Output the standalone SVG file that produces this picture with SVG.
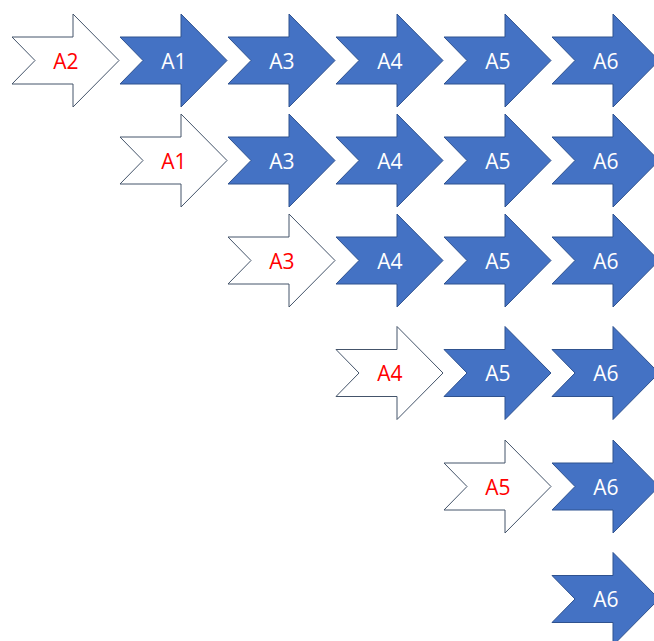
<svg xmlns="http://www.w3.org/2000/svg" xmlns:xlink="http://www.w3.org/1999/xlink" width="654" height="641" viewBox="0 0 654 641">
  <defs>
    <!-- notched block arrow, origin at left edge / vertical centre -->
    <path id="chev" d="M0,-23.5 L61,-23.5 L61,-46.5 L107,0 L61,46.5 L61,23.5 L0,23.5 L23,0 Z"/>
    <style>
      .blue use { fill: #4472C4; stroke: #2F528F; stroke-width: 1; }
      .blue text { fill: #FFFFFF; }
      .start use { fill: #FFFFFF; stroke: #44546A; stroke-width: 1; }
      .start text { fill: #FF0000; }
      text { font-family: "Open Sans", "Liberation Sans", sans-serif; font-size: 21px; text-anchor: middle; }
    </style>
  </defs>
  <rect width="654" height="641" fill="#FFFFFF"/>

  <!-- row 1 -->
  <g id="r1-a2" class="start" transform="translate(12,60.5)"><use xlink:href="#chev"/><text x="54" y="8">A2</text></g>
  <g id="r1-a1" class="blue" transform="translate(120,60.5)"><use xlink:href="#chev"/><text x="54" y="8">A1</text></g>
  <g id="r1-a3" class="blue" transform="translate(228,60.5)"><use xlink:href="#chev"/><text x="54" y="8">A3</text></g>
  <g id="r1-a4" class="blue" transform="translate(336,60.5)"><use xlink:href="#chev"/><text x="54" y="8">A4</text></g>
  <g id="r1-a5" class="blue" transform="translate(444,60.5)"><use xlink:href="#chev"/><text x="54" y="8">A5</text></g>
  <g id="r1-a6" class="blue" transform="translate(552,60.5)"><use xlink:href="#chev"/><text x="54" y="8">A6</text></g>

  <!-- row 2 -->
  <g id="r2-a1" class="start" transform="translate(120,160.5)"><use xlink:href="#chev"/><text x="54" y="8">A1</text></g>
  <g id="r2-a3" class="blue" transform="translate(228,160.5)"><use xlink:href="#chev"/><text x="54" y="8">A3</text></g>
  <g id="r2-a4" class="blue" transform="translate(336,160.5)"><use xlink:href="#chev"/><text x="54" y="8">A4</text></g>
  <g id="r2-a5" class="blue" transform="translate(444,160.5)"><use xlink:href="#chev"/><text x="54" y="8">A5</text></g>
  <g id="r2-a6" class="blue" transform="translate(552,160.5)"><use xlink:href="#chev"/><text x="54" y="8">A6</text></g>

  <!-- row 3 -->
  <g id="r3-a3" class="start" transform="translate(228,260.5)"><use xlink:href="#chev"/><text x="54" y="8">A3</text></g>
  <g id="r3-a4" class="blue" transform="translate(336,260.5)"><use xlink:href="#chev"/><text x="54" y="8">A4</text></g>
  <g id="r3-a5" class="blue" transform="translate(444,260.5)"><use xlink:href="#chev"/><text x="54" y="8">A5</text></g>
  <g id="r3-a6" class="blue" transform="translate(552,260.5)"><use xlink:href="#chev"/><text x="54" y="8">A6</text></g>

  <!-- row 4 -->
  <g id="r4-a4" class="start" transform="translate(336,373)"><use xlink:href="#chev"/><text x="54" y="8">A4</text></g>
  <g id="r4-a5" class="blue" transform="translate(444,373)"><use xlink:href="#chev"/><text x="54" y="8">A5</text></g>
  <g id="r4-a6" class="blue" transform="translate(552,373)"><use xlink:href="#chev"/><text x="54" y="8">A6</text></g>

  <!-- row 5 -->
  <g id="r5-a5" class="start" transform="translate(444,486.5)"><use xlink:href="#chev"/><text x="54" y="8">A5</text></g>
  <g id="r5-a6" class="blue" transform="translate(552,486.5)"><use xlink:href="#chev"/><text x="54" y="8">A6</text></g>

  <!-- row 6 -->
  <g id="r6-a6" class="blue" transform="translate(552,599)"><use xlink:href="#chev"/><text x="54" y="8">A6</text></g>
</svg>
